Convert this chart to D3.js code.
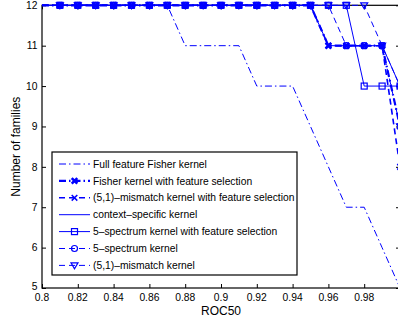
<!DOCTYPE html>
<html>
<head>
<meta charset="utf-8">
<script src="https://cdn.jsdelivr.net/npm/d3@7"></script>
<style>
  body { margin: 0; background: #fff; }
  text { font-family: "Liberation Sans", Arial, sans-serif; }
</style>
</head>
<body>
<figure id="chart" style="margin:0"></figure>
<script>
// ROC50 thresholds and number of families above each threshold
const roc = [0.80, 0.81, 0.82, 0.83, 0.84, 0.85, 0.86, 0.87, 0.88, 0.89, 0.90,
             0.91, 0.92, 0.93, 0.94, 0.95, 0.96, 0.97, 0.98, 0.99, 1.00];
const fullFisher = [12, 12, 12, 12, 12, 12, 12, 12, 11, 11, 11, 11, 10, 10, 10, 9, 8, 7, 7, 6, 5];
const fisherFS   = [12, 12, 12, 12, 12, 12, 12, 12, 12, 12, 12, 12, 12, 12, 12, 12, 11, 11, 11, 11, 9];
const mismatchFS = [12, 12, 12, 12, 12, 12, 12, 12, 12, 12, 12, 12, 12, 12, 12, 12, 11, 11, 11, 11, 8];
const context    = [12, 12, 12, 12, 12, 12, 12, 12, 12, 12, 12, 12, 12, 12, 12, 12, 11, 11, 11, 11, 10];
const spec5FS    = [12, 12, 12, 12, 12, 12, 12, 12, 12, 12, 12, 12, 12, 12, 12, 12, 12, 12, 10, 10, 10];
const spec5      = [12, 12, 12, 12, 12, 12, 12, 12, 12, 12, 12, 12, 12, 12, 12, 12, 12, 11, 11, 11, 10];
const mismatch   = [12, 12, 12, 12, 12, 12, 12, 12, 12, 12, 12, 12, 12, 12, 12, 12, 12, 12, 12, 11, 9];

const xTicks = [0.8, 0.82, 0.84, 0.86, 0.88, 0.9, 0.92, 0.94, 0.96, 0.98, 1.0];
const yTicks = [5, 6, 7, 8, 9, 10, 11, 12];

const series = [
  { name: "Full feature Fisher kernel", values: fullFisher, dash: "7,3,1.5,3", width: 1, marker: null },
  { name: "Fisher kernel with feature selection", values: fisherFS, dash: "7,3,1.5,3", width: 2.2, marker: "x", mw: 2.6 },
  { name: "(5,1)–mismatch kernel with feature selection", values: mismatchFS, dash: "6,4", width: 1.6, marker: "x", mw: 1.5 },
  { name: "context–specific kernel", values: context, dash: null, width: 1, marker: null },
  { name: "5–spectrum kernel with feature selection", values: spec5FS, dash: null, width: 1, marker: "square", mw: 1.2 },
  { name: "5–spectrum kernel", values: spec5, dash: "6,4", width: 1, marker: "circle", mw: 1.2 },
  { name: "(5,1)–mismatch kernel", values: mismatch, dash: "6,4", width: 1, marker: "triangle", mw: 1.2 }
];

const W = 398, H = 324;
const plotLeft = 42, plotRight = 400, plotTop = 5.3, plotBottom = 288;
const blue = "#0000ff";

const svg = d3.select("#chart").append("svg")
  .attr("width", W)
  .attr("height", H);

const x = d3.scaleLinear().domain([0.8, 1.0]).range([plotLeft, plotRight]);
const y = d3.scaleLinear().domain([5, 12]).range([plotBottom, plotTop]);

// axes (matlab style: ticks inside, box on)
svg.append("g")
  .attr("transform", "translate(0," + plotBottom + ")")
  .call(d3.axisTop(x).tickValues(xTicks).tickSize(4).tickFormat(""))
  .call(g => g.select(".domain").remove());
svg.append("g")
  .attr("transform", "translate(0," + plotTop + ")")
  .call(d3.axisBottom(x).tickValues(xTicks).tickSize(4).tickFormat(""))
  .call(g => g.select(".domain").remove());
svg.append("g")
  .attr("transform", "translate(" + plotLeft + ",0)")
  .call(d3.axisRight(y).tickValues(yTicks).tickSize(4).tickFormat(""))
  .call(g => g.select(".domain").remove());
svg.append("g")
  .attr("transform", "translate(" + plotRight + ",0)")
  .call(d3.axisLeft(y).tickValues(yTicks).tickSize(4).tickFormat(""))
  .call(g => g.select(".domain").remove());
svg.selectAll(".tick line").attr("stroke", "#000");

svg.append("rect")
  .attr("x", plotLeft).attr("y", plotTop)
  .attr("width", plotRight - plotLeft).attr("height", plotBottom - plotTop)
  .attr("fill", "none").attr("stroke", "#000").attr("stroke-width", 1.2);

// tick labels
svg.selectAll(".xlab")
  .data(xTicks.slice(0, 10))
  .enter().append("text")
  .attr("x", d => x(d))
  .attr("y", 301)
  .attr("text-anchor", "middle")
  .attr("font-size", "10.3px")
  .text(d => d === 0.8 ? "0.8" : d === 0.9 ? "0.9" : d3.format(".2f")(d));

svg.selectAll(".ylab")
  .data(yTicks)
  .enter().append("text")
  .attr("x", 37.5)
  .attr("y", d => d === 5 ? y(d) + 2 : y(d) + 3.7)
  .attr("text-anchor", "end")
  .attr("font-size", "10.3px")
  .text(d => d);

svg.append("text")
  .attr("x", x(0.9)).attr("y", 314.5)
  .attr("text-anchor", "middle")
  .attr("font-size", "12px")
  .text("ROC50");

svg.append("text")
  .attr("transform", "translate(20," + ((plotTop + plotBottom) / 2) + ")rotate(-90)")
  .attr("text-anchor", "middle")
  .attr("font-size", "12px")
  .text("Number of families");

function drawMarker(g, type, cx, cy, mw) {
  if (type === "x") {
    const s = 2.8;
    g.append("path")
      .attr("d", `M${cx - s},${cy - s}L${cx + s},${cy + s}M${cx - s},${cy + s}L${cx + s},${cy - s}`)
      .attr("stroke", blue).attr("stroke-width", mw).attr("fill", "none");
  } else if (type === "square") {
    g.append("rect")
      .attr("x", cx - 3).attr("y", cy - 3).attr("width", 6).attr("height", 6)
      .attr("stroke", blue).attr("stroke-width", mw).attr("fill", "none");
  } else if (type === "circle") {
    g.append("circle")
      .attr("cx", cx).attr("cy", cy).attr("r", 3)
      .attr("stroke", blue).attr("stroke-width", mw).attr("fill", "none");
  } else if (type === "triangle") {
    g.append("path")
      .attr("d", `M${cx - 3.5},${cy - 2.5}L${cx + 3.5},${cy - 2.5}L${cx},${cy + 3.5}Z`)
      .attr("stroke", blue).attr("stroke-width", mw).attr("fill", "none");
  }
}

// curves
const line = d3.line()
  .x(d => x(d[0]))
  .y(d => y(d[1]));

series.forEach(s => {
  const pts = roc.map((r, i) => [r, s.values[i]]);
  svg.append("path")
    .datum(pts)
    .attr("d", line)
    .attr("fill", "none")
    .attr("stroke", blue)
    .attr("stroke-width", s.width)
    .attr("stroke-dasharray", s.dash);
  if (s.marker) {
    const g = svg.append("g");
    // markers from 0.81 on (none at the axis itself)
    pts.slice(1).forEach(p => drawMarker(g, s.marker, x(p[0]), y(p[1]), s.mw));
  }
});

// legend
const lg = svg.append("g");
lg.append("rect")
  .attr("x", 52).attr("y", 152).attr("width", 245).attr("height", 123)
  .attr("fill", "#fff").attr("stroke", "#000").attr("stroke-width", 1.2);

series.forEach((s, i) => {
  const ly = 164 + i * 16.9;
  lg.append("line")
    .attr("x1", 59).attr("x2", 90).attr("y1", ly).attr("y2", ly)
    .attr("stroke", blue)
    .attr("stroke-width", s.width)
    .attr("stroke-dasharray", s.dash);
  if (s.marker) drawMarker(lg, s.marker, 74.5, ly, s.mw);
  lg.append("text")
    .attr("x", 93).attr("y", ly + 3.6)
    .attr("font-size", "10.3px")
    .text(s.name);
});
</script>
</body>
</html>
